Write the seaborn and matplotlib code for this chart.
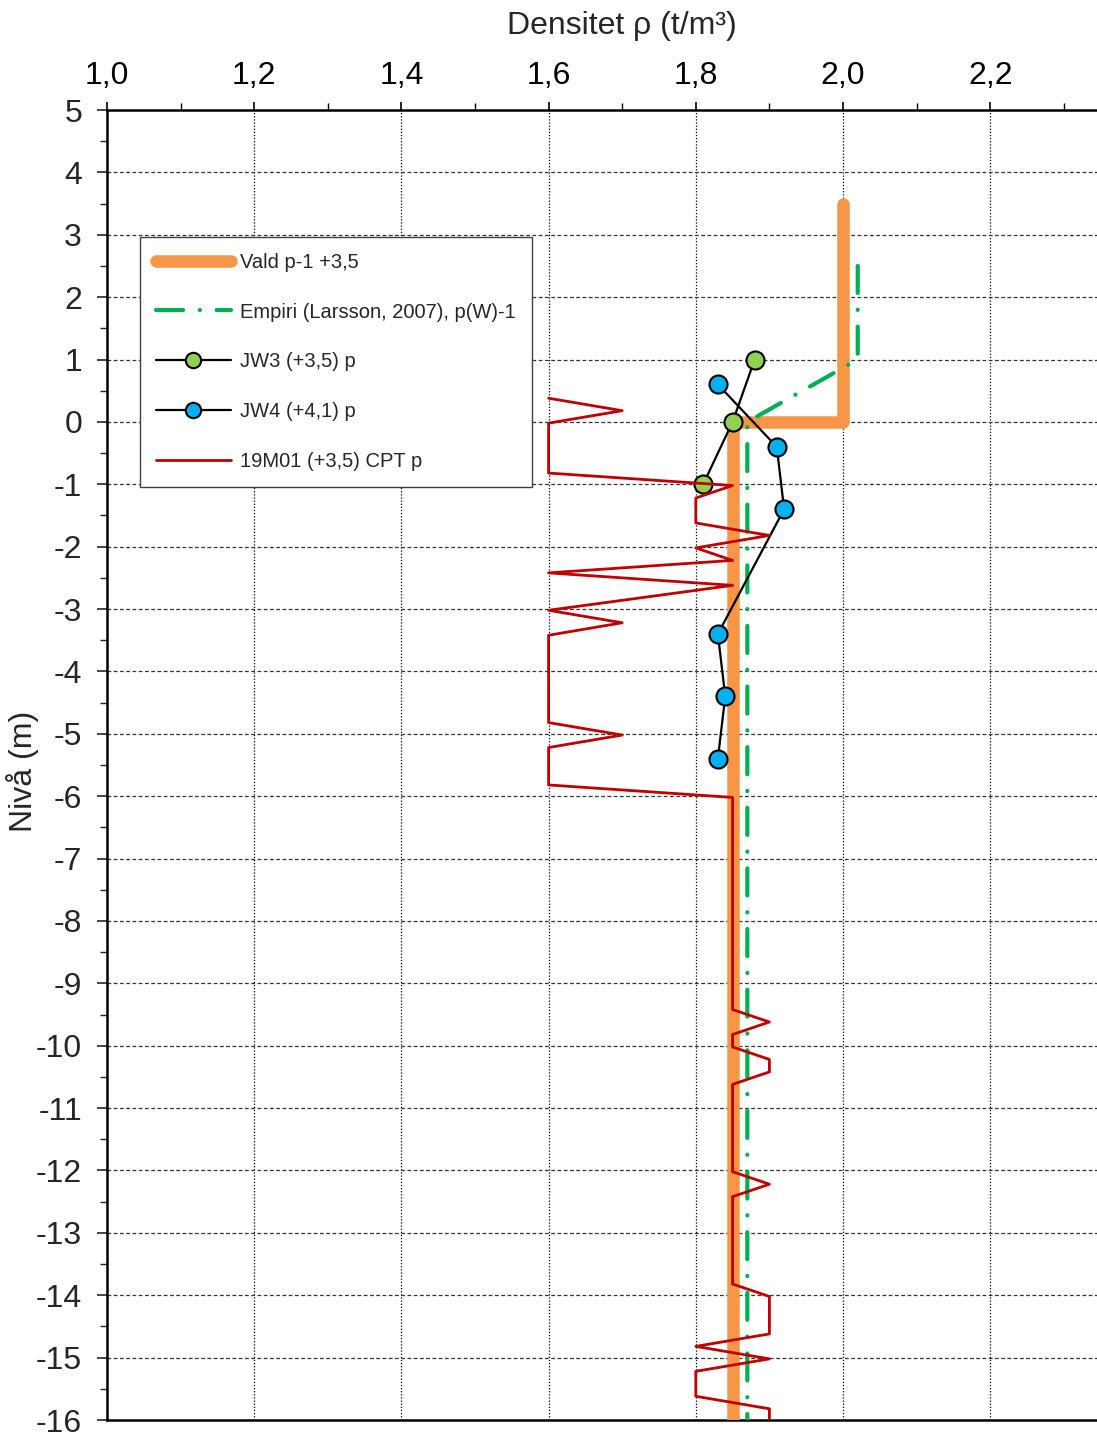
import matplotlib
matplotlib.use("Agg")
import matplotlib.pyplot as plt
import seaborn as sns
from matplotlib.ticker import FixedLocator, MultipleLocator

# ---------------- data ----------------
vald_density = [2.0, 2.0, 1.85, 1.85]
vald_level = [3.5, 0.0, 0.0, -16.5]

empiri_density = [2.02, 2.02, 1.87, 1.87]
empiri_level = [2.5, 1.0, 0.0, -16.5]

jw3_density = [1.88, 1.85, 1.81]
jw3_level = [1.0, 0.0, -1.0]

jw4_density = [1.83, 1.91, 1.92, 1.83, 1.84, 1.83]
jw4_level = [0.6, -0.4, -1.4, -3.4, -4.4, -5.4]

cpt_density = [1.6, 1.7, 1.6, 1.6, 1.85, 1.8, 1.8, 1.9, 1.8, 1.85, 1.6, 1.85, 1.6,
               1.7, 1.6, 1.6, 1.7, 1.6, 1.6, 1.85, 1.85, 1.9, 1.85, 1.85, 1.9, 1.9,
               1.85, 1.85, 1.9, 1.85, 1.85, 1.9, 1.9, 1.8, 1.9, 1.8, 1.8, 1.9, 1.9]
cpt_level = [0.38, 0.18, -0.02, -0.82, -1.02, -1.22, -1.62, -1.82, -2.02, -2.22,
             -2.42, -2.62, -3.02, -3.22, -3.42, -4.82, -5.02, -5.22, -5.82, -6.02,
             -9.42, -9.62, -9.82, -10.02, -10.22, -10.42, -10.62, -12.02, -12.22,
             -12.42, -13.82, -14.02, -14.62, -14.82, -15.02, -15.22, -15.62, -15.82,
             -16.02]

series_labels = ["Vald p-1 +3,5", "Empiri (Larsson, 2007), p(W)-1",
                 "JW3 (+3,5) p", "JW4 (+4,1) p", "19M01 (+3,5) CPT p"]

x_ticks = [1.0, 1.2, 1.4, 1.6, 1.8, 2.0, 2.2]
x_tick_labels = ["1,0", "1,2", "1,4", "1,6", "1,8", "2,0", "2,2"]
y_ticks = list(range(-16, 6))
y_tick_labels = [str(v) for v in y_ticks]

x_title = "Densitet \u03c1 (t/m\u00b3)"
y_title = "Niv\u00e5 (m)"

# ---------------- style ----------------
sns.set_style("ticks")
plt.rcParams["font.family"] = ["Liberation Sans", "DejaVu Sans"]
plt.rcParams["axes.unicode_minus"] = False

W, H = 1097, 1436
fig = plt.figure(figsize=(W / 100, H / 100), dpi=100)
ax_left, ax_right, ax_top, ax_bottom = 107, 1137.4, 110, 1420
ax = fig.add_axes([ax_left / W, 1 - ax_bottom / H,
                   (ax_right - ax_left) / W, (ax_bottom - ax_top) / H])

orange = "#F79646"
green = "#00B050"
red = "#C00000"

# Vald
sns.lineplot(x=vald_density, y=vald_level, sort=False, estimator=None, ax=ax,
             color=orange, linewidth=9, zorder=3)
l_vald = ax.lines[-1]
l_vald.set_solid_capstyle("round")
l_vald.set_solid_joinstyle("round")

# Empiri
sns.lineplot(x=empiri_density, y=empiri_level, sort=False, estimator=None, ax=ax,
             color=green, linewidth=3, zorder=4)
l_emp = ax.lines[-1]
l_emp.set_linestyle((0, (6.5, 4, 0.05, 4)))
l_emp.set_dash_capstyle("round")

# JW3
sns.lineplot(x=jw3_density, y=jw3_level, sort=False, estimator=None, ax=ax,
             color="black", linewidth=1.6, marker="o", markersize=13,
             markerfacecolor="#92D050", markeredgecolor="black",
             markeredgewidth=1.5, zorder=5)
l_jw3 = ax.lines[-1]

# JW4
sns.lineplot(x=jw4_density, y=jw4_level, sort=False, estimator=None, ax=ax,
             color="black", linewidth=1.6, marker="o", markersize=13,
             markerfacecolor="#00B0F0", markeredgecolor="black",
             markeredgewidth=1.5, zorder=5)
l_jw4 = ax.lines[-1]

# CPT
sns.lineplot(x=cpt_density, y=cpt_level, sort=False, estimator=None, ax=ax,
             color=red, linewidth=2, zorder=6)
l_cpt = ax.lines[-1]

# ---------------- axes ----------------
ax.set_xlim(1.0, 2.4)
ax.set_ylim(-16, 5)

ax.xaxis.tick_top()
ax.xaxis.set_label_position("top")
ax.xaxis.set_major_locator(FixedLocator(x_ticks))
ax.set_xticklabels(x_tick_labels)
ax.xaxis.set_minor_locator(MultipleLocator(0.1))
ax.yaxis.set_major_locator(FixedLocator(y_ticks))
ax.set_yticklabels(y_tick_labels)
ax.yaxis.set_minor_locator(MultipleLocator(0.5))

ax.tick_params(axis="x", which="both", top=True, bottom=False, labeltop=True,
               labelbottom=False, direction="out", colors="black")
ax.tick_params(axis="x", which="major", length=6, width=1.2, labelsize=23, pad=8)
ax.tick_params(axis="x", which="minor", length=5, width=1.0)
ax.tick_params(axis="y", which="both", left=True, right=False, direction="out")
ax.tick_params(axis="y", which="major", length=7, width=1.2, labelsize=23, pad=11)
ax.tick_params(axis="y", which="minor", length=5, width=1.0)

for side in ["top", "left", "bottom"]:
    ax.spines[side].set_linewidth(1.8)
    ax.spines[side].set_color("black")
ax.spines["right"].set_visible(False)

ax.set_axisbelow(True)
ax.grid(False)
for xv in x_ticks[1:]:
    ax.axvline(xv, color="black", linewidth=0.9, linestyle=(0, (1, 1.5)), zorder=1)
for yv in y_ticks[1:-1]:
    ax.axhline(yv, color="#333333", linewidth=0.9, linestyle=(0, (3, 2)), zorder=1)

ax.set_xlabel(x_title, fontsize=23, labelpad=19)
ax.set_ylabel(y_title, fontsize=23)
ax.yaxis.set_label_coords(-0.066, 0.495)

leg = ax.legend([l_vald, l_emp, l_jw3, l_jw4, l_cpt], series_labels,
                loc="upper left", bbox_to_anchor=(140 / W, 1 - 237 / H),
                bbox_transform=fig.transFigure, borderaxespad=0,
                fontsize=14.5, frameon=True, fancybox=False, handlelength=3.75,
                handletextpad=0.45, labelspacing=1.53, borderpad=0.78,
                markerscale=0.85)
leg.get_frame().set_edgecolor("#404040")
leg.get_frame().set_linewidth(1.0)
leg.get_frame().set_alpha(1)
leg.set_zorder(10)

fig.savefig("out.png", dpi=100)
